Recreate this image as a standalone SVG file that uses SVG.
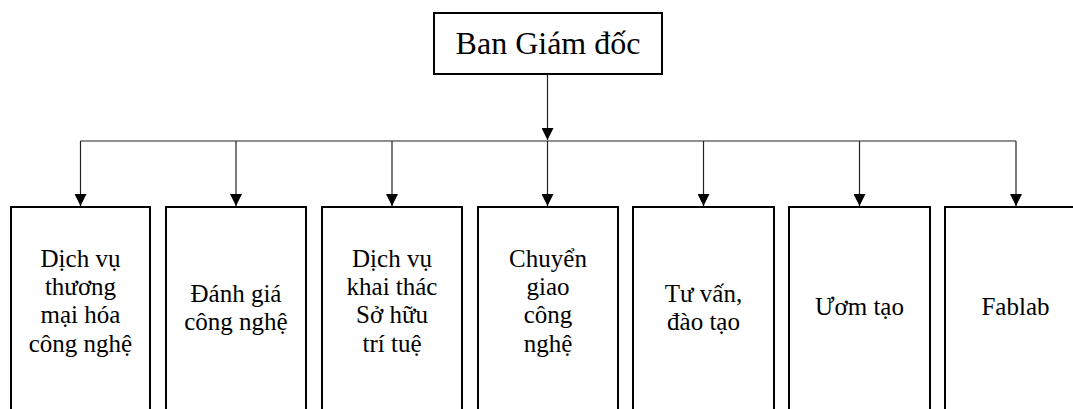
<svg xmlns="http://www.w3.org/2000/svg" width="1073" height="409" viewBox="0 0 1073 409">
<style>
.box{fill:#fff;stroke:#000;stroke-width:2}
.t{font-family:"Liberation Serif","Times New Roman",serif;font-size:25px;fill:#000;text-anchor:middle}
.h{font-size:32px}
.c{fill:none;stroke:#222;stroke-width:1.2}
</style>
<defs>
<marker id="ah" viewBox="0 0 12 12" refX="12" refY="6" markerWidth="12" markerHeight="12" markerUnits="userSpaceOnUse" orient="auto">
<path d="M0,0 L12,6 L0,12 Z" fill="#000"/>
</marker>
</defs>
<rect width="1073" height="409" fill="#fff"/>
<g id="connectors">
<line class="c" x1="547.5" y1="74" x2="547.5" y2="140" marker-end="url(#ah)"/>
<line class="c" x1="80.5" y1="141" x2="1016" y2="141"/>
<line class="c" x1="80.5" y1="141" x2="80.5" y2="206" marker-end="url(#ah)"/>
<line class="c" x1="236" y1="141" x2="236" y2="206" marker-end="url(#ah)"/>
<line class="c" x1="392" y1="141" x2="392" y2="206" marker-end="url(#ah)"/>
<line class="c" x1="547.5" y1="141" x2="547.5" y2="206" marker-end="url(#ah)"/>
<line class="c" x1="703.5" y1="141" x2="703.5" y2="206" marker-end="url(#ah)"/>
<line class="c" x1="859.5" y1="141" x2="859.5" y2="206" marker-end="url(#ah)"/>
<line class="c" x1="1016" y1="141" x2="1016" y2="206" marker-end="url(#ah)"/>
</g>
<g id="ban-giam-doc">
<rect class="box" x="434" y="13" width="228" height="61"/>
<text class="t h" x="548" y="54">Ban Giám đốc</text>
</g>
<g id="dich-vu-thuong-mai">
<rect class="box" x="11" y="207" width="139" height="220"/>
<text class="t" x="80.5" y="267">Dịch vụ</text>
<text class="t" x="80.5" y="295">thương</text>
<text class="t" x="80.5" y="323">mại hóa</text>
<text class="t" x="80.5" y="352">công nghệ</text>
</g>
<g id="danh-gia">
<rect class="box" x="166" y="207" width="140" height="220"/>
<text class="t" x="236" y="302">Đánh giá</text>
<text class="t" x="236" y="330">công nghệ</text>
</g>
<g id="so-huu-tri-tue">
<rect class="box" x="322" y="207" width="140" height="220"/>
<text class="t" x="392" y="267">Dịch vụ</text>
<text class="t" x="392" y="295">khai thác</text>
<text class="t" x="392" y="323">Sở hữu</text>
<text class="t" x="392" y="352">trí tuệ</text>
</g>
<g id="chuyen-giao">
<rect class="box" x="478" y="207" width="140" height="220"/>
<text class="t" x="548" y="267">Chuyển</text>
<text class="t" x="548" y="295">giao</text>
<text class="t" x="548" y="323">công</text>
<text class="t" x="548" y="352">nghệ</text>
</g>
<g id="tu-van">
<rect class="box" x="633" y="207" width="141" height="220"/>
<text class="t" x="703.5" y="302">Tư vấn,</text>
<text class="t" x="703.5" y="330">đào tạo</text>
</g>
<g id="uom-tao">
<rect class="box" x="789" y="207" width="141" height="220"/>
<text class="t" x="859.5" y="315">Ươm tạo</text>
</g>
<g id="fablab">
<rect class="box" x="945" y="207" width="140" height="220"/>
<text class="t" x="1015.5" y="315">Fablab</text>
</g>
</svg>
